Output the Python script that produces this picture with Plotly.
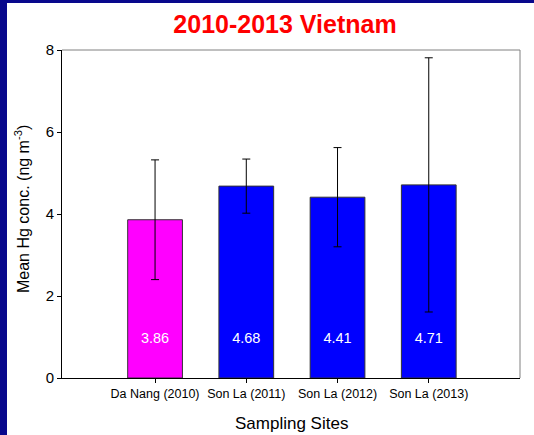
import plotly.graph_objects as go

# Mean Hg concentrations per sampling campaign
sites = ["Da Nang (2010)", "Son La (2011)", "Son La (2012)", "Son La (2013)"]
mean_hg = [3.86, 4.68, 4.41, 4.71]
sd_hg = [1.46, 0.66, 1.21, 3.10]
bar_colors = ["#FF00FF", "#0000FF", "#0000FF", "#0000FF"]
y_ticks = [0, 2, 4, 6, 8]

W, H = 534, 435
ML, MR, MT, MB = 62, 14, 50, 57
PW, PH = W - ML - MR, H - MT - MB
FONT = "Liberation Sans, Arial, sans-serif"

fig = go.Figure()
fig.add_trace(go.Bar(
    x=list(range(len(sites))),
    y=mean_hg,
    width=0.6,
    marker=dict(color=bar_colors, line=dict(color="#333333", width=1)),
    error_y=dict(type="data", array=sd_hg, visible=True,
                 color="black", thickness=1, width=4),
    hoverinfo="skip",
))
# value labels near the base of each bar
fig.add_trace(go.Scatter(
    x=list(range(len(sites))),
    y=[0.95] * len(sites),
    mode="text",
    text=[f"{v:.2f}" for v in mean_hg],
    textfont=dict(color="white", size=14.5, family=FONT),
    hoverinfo="skip",
))


def px_x(p):
    return (p - ML) / PW


def px_y(p):
    return (H - MB - p) / PH


shapes = [
    # navy frame strips on the left and top
    dict(type="rect", xref="paper", yref="paper", x0=px_x(0), x1=px_x(7),
         y0=px_y(H), y1=px_y(0), fillcolor="#08088C", line=dict(width=0), layer="below"),
    dict(type="rect", xref="paper", yref="paper", x0=px_x(0), x1=px_x(W),
         y0=px_y(3), y1=px_y(0), fillcolor="#08088C", line=dict(width=0), layer="below"),
    # gray top/right border of the plot box
    dict(type="line", xref="paper", yref="paper", x0=0, x1=1, y0=1, y1=1,
         line=dict(color="#808080", width=1)),
    dict(type="line", xref="paper", yref="paper", x0=1, x1=1, y0=0, y1=1,
         line=dict(color="#808080", width=1)),
]

annotations = [
    dict(text="Mean Hg conc. (ng m<sup>-3</sup>)", xref="paper", yref="paper",
         x=px_x(22), y=px_y(209), xanchor="center", yanchor="middle",
         textangle=-90, showarrow=False, font=dict(size=16, family=FONT, color="black")),
    dict(text="Sampling Sites", xref="paper", yref="paper",
         x=px_x(291), y=px_y(424), xanchor="center", yanchor="middle",
         showarrow=False, font=dict(size=17, family=FONT, color="black")),
]

fig.update_layout(
    width=W, height=H,
    margin=dict(l=ML, r=MR, t=MT, b=MB),
    paper_bgcolor="white", plot_bgcolor="white",
    showlegend=False,
    font=dict(family=FONT, color="black"),
    title=dict(text="<b>2010-2013 Vietnam</b>", x=px_x(285), xref="paper",
               xanchor="center", y=1 - 24 / H, yanchor="middle",
               font=dict(size=25, color="#FF0000", family=FONT)),
    shapes=shapes,
    annotations=annotations,
    xaxis=dict(
        range=[-1.02, 4.0],
        tickmode="array", tickvals=list(range(len(sites))), ticktext=sites,
        ticks="outside", ticklen=4, tickcolor="black",
        showline=True, linecolor="black", linewidth=1,
        showgrid=False, zeroline=False,
        tickfont=dict(size=12.5),
    ),
    yaxis=dict(
        range=[0, 8],
        tickmode="array", tickvals=y_ticks,
        ticks="outside", ticklen=4, tickcolor="black",
        showline=True, linecolor="black", linewidth=1,
        showgrid=False, zeroline=False,
        tickfont=dict(size=15),
    ),
)

fig.write_html("out.html")
